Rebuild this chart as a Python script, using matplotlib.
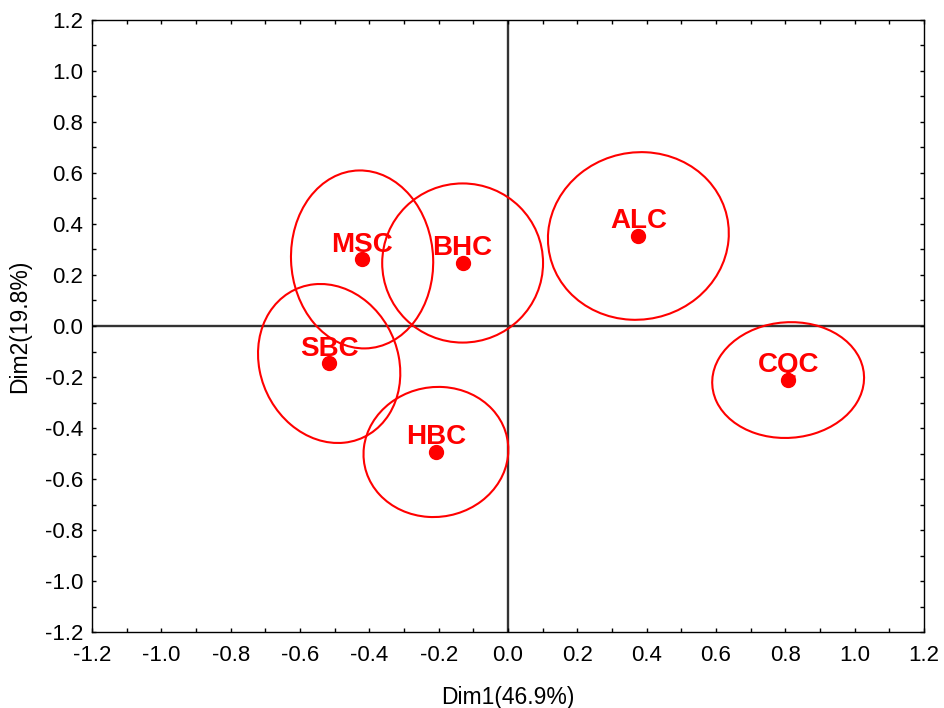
"""
PCA-style score plot with confidence ellipses (Dim1 vs Dim2)
"""
import matplotlib
matplotlib.use("Agg")
import matplotlib.pyplot as plt
from matplotlib.patches import Ellipse
from matplotlib.ticker import MultipleLocator
import numpy as np

plt.rcParams["font.family"] = ["Liberation Sans", "DejaVu Sans"]
plt.rcParams["axes.unicode_minus"] = False

# sample scores
names = ["ALC", "CQC", "BHC", "MSC", "SBC", "HBC"]
dim1 = [0.376, 0.808, -0.131, -0.421, -0.516, -0.208]
dim2 = [0.353, -0.212, 0.247, 0.261, -0.147, -0.494]

# ellipse full widths / heights (data units) and rotation in degrees
ell_w = [0.521, 0.434, 0.464, 0.410, 0.405, 0.417]
ell_h = [0.658, 0.458, 0.624, 0.698, 0.627, 0.511]
ell_ang = [-4, -24, 0, 1.5, 8, -5]

fig = plt.figure(figsize=(9.45, 7.08), dpi=100)
ax = fig.add_axes([0.0974, 0.1073, 0.8804, 0.8645])

red = "#ff0000"

# zero lines
ax.axhline(0, color="#333333", lw=1.7, zorder=1)
ax.axvline(0, color="#333333", lw=1.7, zorder=1)

for x, y, w, h, a in zip(dim1, dim2, ell_w, ell_h, ell_ang):
    ax.add_patch(Ellipse((x, y), w, h, angle=a, fill=False,
                         edgecolor=red, lw=1.5, zorder=2))

ax.plot(dim1, dim2, "o", color=red, ms=10, zorder=3)

for x, y, name in zip(dim1, dim2, names):
    ax.annotate(name, (x, y), textcoords="offset points", xytext=(0, 5.5),
                ha="center", va="baseline", fontsize=20, fontweight="bold",
                color=red, zorder=4)

ax.set_xlim(-1.2, 1.2)
ax.set_ylim(-1.2, 1.2)
ticks = np.round(np.arange(-1.2, 1.21, 0.2), 1) + 0.0
tick_labels = [f"{abs(t):.1f}" if abs(t) < 1e-9 else f"{t:.1f}" for t in ticks]
ax.set_xticks(ticks)
ax.set_yticks(ticks)
ax.set_xticklabels(tick_labels)
ax.set_yticklabels(tick_labels)
ax.xaxis.set_minor_locator(MultipleLocator(0.1))
ax.yaxis.set_minor_locator(MultipleLocator(0.1))

ax.tick_params(which="both", direction="in", top=True, right=True,
               length=3, width=1, labelsize=16)
ax.tick_params(axis="x", pad=9.5)
ax.tick_params(axis="y", pad=6.5)
for s in ax.spines.values():
    s.set_linewidth(1.0)

ax.set_xlabel("Dim1(46.9%)", fontsize=16.5)
ax.set_ylabel("Dim2(19.8%)", fontsize=16.5, va="center")
ax.xaxis.set_label_coords(0.5, -0.088)
ax.yaxis.set_label_coords(-0.087, 0.5)

plt.savefig("out.png", dpi=100)
